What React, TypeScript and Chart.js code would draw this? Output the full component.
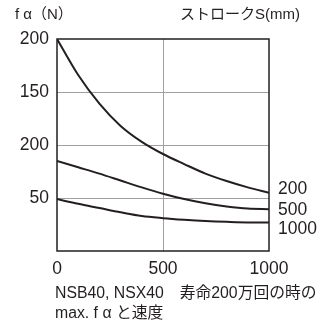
import React, { useEffect, useRef } from "react";
import { Chart, registerables } from "chart.js";

Chart.register(...registerables);

const strokeValues = [0, 100, 200, 300, 400, 500, 600, 700, 800, 900, 1000];
const series200 = [200, 166, 139, 118, 103, 91.5, 82, 73, 66, 60, 55];
const series500 = [85, 79, 73, 66.5, 60, 54, 49, 45, 42, 40, 39.5];
const series1000 = [49, 44.5, 40.5, 36.5, 33, 31, 29.5, 28.3, 27.5, 27, 27];
const seriesNames = ["200", "500", "1000"];

const yTickValues = [0, 50, 100, 150, 200];
const yTickLabels = ["", "50", "200", "150", "200"];
const xTickValues = [0, 500, 1000];
const xTickLabels = ["0", "500", "1000"];

const yTitle = "f α（N）";
const xTitle = "ストロークS(mm)";
const caption1 = "NSB40, NSX40　寿命200万回の時の";
const caption2 = "max. f α と速度";

const FONT = "'Liberation Sans', Arial, 'Noto Sans CJK JP', sans-serif";
const INK = "#231f20";

export default function App() {
  const ref = useRef<HTMLCanvasElement | null>(null);
  useEffect(() => {
    const canvas = ref.current;
    if (!canvas) return;
    const mk = (vals: number[]) => strokeValues.map((x, i) => ({ x, y: vals[i] }));
    const allSeries = [series200, series500, series1000];

    const textPlugin = {
      id: "extras",
      afterDraw(chart: any) {
        const ctx = chart.ctx;
        const a = chart.chartArea;
        ctx.save();
        ctx.strokeStyle = INK;
        ctx.lineWidth = 1.5;
        ctx.strokeRect(a.left, a.top, a.right - a.left, a.bottom - a.top);
        ctx.fillStyle = INK;
        ctx.textBaseline = "middle";
        ctx.textAlign = "left";
        ctx.font = `15px ${FONT}`;
        ctx.fillText(yTitle, 15, 15);
        ctx.fillText(xTitle, 180, 15);
        ctx.font = `15.8px ${FONT}`;
        ctx.fillText(caption1, 55, 294);
        ctx.fillText(caption2, 55, 314);
        ctx.font = `17.5px ${FONT}`;
        const offs = [-4, 1, 7];
        seriesNames.forEach((n, i) => {
          const vals = allSeries[i];
          const y = chart.scales.y.getPixelForValue(vals[vals.length - 1]) + offs[i];
          ctx.fillText(n, a.right + 9, y);
        });
        ctx.restore();
      },
    };

    const chart = new Chart(canvas, {
      type: "line",
      data: {
        datasets: allSeries.map((s, i) => ({
          label: seriesNames[i],
          data: mk(s),
          borderColor: INK,
          borderWidth: 2,
          pointRadius: 0,
          fill: false,
          cubicInterpolationMode: "monotone" as const,
        })),
      },
      options: {
        responsive: false,
        animation: false,
        layout: { padding: { top: 39, right: 53, left: 0, bottom: 0 } },
        plugins: { legend: { display: false }, tooltip: { enabled: false } },
        scales: {
          x: {
            type: "linear",
            min: 0,
            max: 1000,
            afterFit: (s: any) => { s.height = 75; },
            afterBuildTicks: (s: any) => { s.ticks = xTickValues.map((v) => ({ value: v })); },
            ticks: {
              color: INK,
              font: { size: 17.5, family: FONT },
              padding: 8,
              maxRotation: 0,
              callback: (v: any) => {
                const i = xTickValues.indexOf(Number(v));
                return i >= 0 ? xTickLabels[i] : "";
              },
            },
            grid: {
              drawTicks: false,
              color: (c: any) => (c.tick && c.tick.value === 500 ? "#a0a0a0" : "rgba(0,0,0,0)"),
              lineWidth: 1,
            },
            border: { display: false },
          },
          y: {
            type: "linear",
            min: 0,
            max: 200,
            afterFit: (s: any) => { s.width = 57; },
            afterBuildTicks: (s: any) => { s.ticks = yTickValues.map((v) => ({ value: v })); },
            ticks: {
              color: INK,
              font: { size: 17.5, family: FONT },
              padding: 8,
              callback: (v: any) => {
                const i = yTickValues.indexOf(Number(v));
                return i >= 0 ? yTickLabels[i] : "";
              },
            },
            grid: {
              drawTicks: false,
              color: (c: any) =>
                c.tick && c.tick.value > 0 && c.tick.value < 200 ? "#a0a0a0" : "rgba(0,0,0,0)",
              lineWidth: 1,
            },
            border: { display: false },
          },
        },
      },
      plugins: [textPlugin],
    } as any);
    return () => chart.destroy();
  }, []);
  return (
    <canvas
      ref={ref}
      width={322}
      height={326}
      style={{ position: "fixed", left: 0, top: 0, width: 322, height: 326, background: "#fff" }}
    />
  );
}
